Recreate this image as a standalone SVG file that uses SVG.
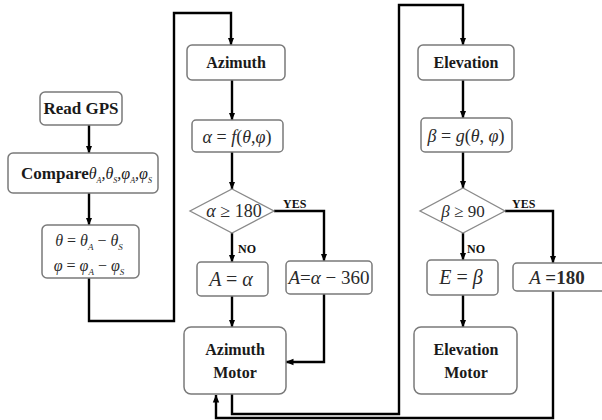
<svg xmlns="http://www.w3.org/2000/svg" width="602" height="420" viewBox="0 0 602 420" font-family="'Liberation Serif', 'Times New Roman', serif">
<defs>
<marker id="ah" markerUnits="userSpaceOnUse" markerWidth="8" markerHeight="9" refX="7.5" refY="4" orient="auto" viewBox="0 0 8 8">
<path d="M0,0.8 L8,4 L0,7.2 Z" fill="#000"/>
</marker>
<style>
.box{fill:#fff;stroke:#7a7a7a;stroke-width:1.5}
.dia{fill:#fff;stroke:#8a8a8a;stroke-width:1.3}
.c{fill:none;stroke:#000;stroke-width:2.4}
.a{marker-end:url(#ah)}
.b{font-weight:bold;fill:#1a1a1a;text-anchor:middle}
.m{font-style:italic;fill:#2a2a2a;text-anchor:middle}
.r{font-style:normal}
.lab{font-weight:bold;font-size:12px;fill:#111}
</style>
</defs>
<rect width="602" height="420" fill="#fff"/>

<g id="connectors">
<path class="c a" d="M89,125 V153"/>
<path class="c a" d="M89,193 V225"/>
<path class="c a" d="M89,278 V321 H174 V13 H231 V45"/>
<path class="c a" d="M232,80 V120"/>
<path class="c a" d="M232,152 V189"/>
<path class="c a" d="M232,233 V262"/>
<path class="c a" d="M274,211 H324 V261"/>
<path class="c a" d="M232,296 V327"/>
<path class="c a" d="M324,294 V362 H286"/>
<path class="c a" d="M232,394 V414 H399 V5 H463 V45"/>
<path class="c a" d="M463,80 V118"/>
<path class="c a" d="M463,152 V188"/>
<path class="c a" d="M463,233 V260"/>
<path class="c a" d="M505,211 H553 V263"/>
<path class="c a" d="M463,295 V327"/>
<path class="c a" d="M553,291 V418 H216 V395"/>
<text class="lab" x="283" y="208">YES</text>
<text class="lab" x="238" y="253">NO</text>
<text class="lab" x="512" y="208">YES</text>
<text class="lab" x="467" y="253">NO</text>
</g>

<g id="readgps">
<rect class="box" x="40" y="92" width="82" height="33" rx="5"/>
<text class="b" x="81" y="114" font-size="17">Read GPS</text>
</g>

<g id="compare">
<rect class="box" x="8" y="153" width="150" height="40" rx="5"/>
<text class="b" x="21" y="179" font-size="17" style="text-anchor:start">Compare<tspan font-style="italic" font-weight="normal" font-size="16">θ<tspan font-size="8" dy="4">A</tspan><tspan dy="-4">,θ</tspan><tspan font-size="8" dy="4">S</tspan><tspan dy="-4">,φ</tspan><tspan font-size="8" dy="4">A</tspan><tspan dy="-4">,φ</tspan><tspan font-size="8" dy="4">S</tspan></tspan></text>
</g>

<g id="diffs">
<rect class="box" x="42" y="225" width="97" height="53" rx="5"/>
<text class="m" x="89" y="246" font-size="16">θ <tspan class="r">=</tspan> θ<tspan font-size="9" dy="4">A</tspan><tspan dy="-4" class="r"> − </tspan>θ<tspan font-size="9" dy="4">S</tspan></text>
<text class="m" x="89" y="271" font-size="16">φ <tspan class="r">=</tspan> φ<tspan font-size="9" dy="4">A</tspan><tspan dy="-4" class="r"> − </tspan>φ<tspan font-size="9" dy="4">S</tspan></text>
</g>

<g id="azimuth">
<rect class="box" x="187" y="45" width="98" height="35" rx="5"/>
<text class="b" x="236" y="68" font-size="16">Azimuth</text>
</g>

<g id="alpha-f">
<rect class="box" x="192" y="120" width="91" height="32" rx="4"/>
<text class="m" x="237" y="143" font-size="18">α <tspan class="r">=</tspan> f<tspan class="r">(</tspan>θ<tspan class="r">,</tspan>φ<tspan class="r">)</tspan></text>
</g>

<g id="alpha-test">
<polygon class="dia" points="232,189 274,211 232,233 190,211"/>
<text class="m" x="234" y="217" font-size="18">α <tspan class="r">≥ 180</tspan></text>
</g>

<g id="a-eq-alpha">
<rect class="box" x="197" y="262" width="71" height="34" rx="4"/>
<text class="m" x="231" y="286" font-size="20">A <tspan class="r">=</tspan> α</text>
</g>

<g id="a-eq-alpha-360">
<rect class="box" x="286" y="261" width="86" height="33" rx="4"/>
<text class="m" x="329" y="284" font-size="19">A<tspan class="r">=</tspan>α<tspan class="r"> − 360</tspan></text>
</g>

<g id="azimuth-motor">
<rect class="box" x="184" y="327" width="102" height="67" rx="7"/>
<text class="b" x="235" y="355" font-size="16">Azimuth</text>
<text class="b" x="235" y="378" font-size="16">Motor</text>
</g>

<g id="elevation">
<rect class="box" x="418" y="45" width="96" height="35" rx="5"/>
<text class="b" x="466" y="68" font-size="16">Elevation</text>
</g>

<g id="beta-g">
<rect class="box" x="421" y="118" width="91" height="34" rx="4"/>
<text class="m" x="466" y="142" font-size="18">β <tspan class="r">=</tspan> <tspan>g</tspan><tspan class="r">(</tspan>θ<tspan class="r">,</tspan> φ<tspan class="r">)</tspan></text>
</g>

<g id="beta-test">
<polygon class="dia" points="463,188 505,211 463,233 420,211"/>
<text class="m" x="463" y="217" font-size="17">β <tspan class="r">≥ 90</tspan></text>
</g>

<g id="e-eq-beta">
<rect class="box" x="427" y="260" width="71" height="35" rx="4"/>
<text class="m" x="461" y="284" font-size="20">E <tspan class="r">=</tspan> β</text>
</g>

<g id="a-eq-180">
<rect class="box" x="513" y="263" width="95" height="28" rx="4"/>
<text class="m" x="557" y="284" font-size="19">A <tspan class="r" font-weight="bold">=180</tspan></text>
</g>

<g id="elevation-motor">
<rect class="box" x="414" y="327" width="103" height="67" rx="7"/>
<text class="b" x="466" y="355" font-size="16">Elevation</text>
<text class="b" x="466" y="378" font-size="16">Motor</text>
</g>
</svg>
